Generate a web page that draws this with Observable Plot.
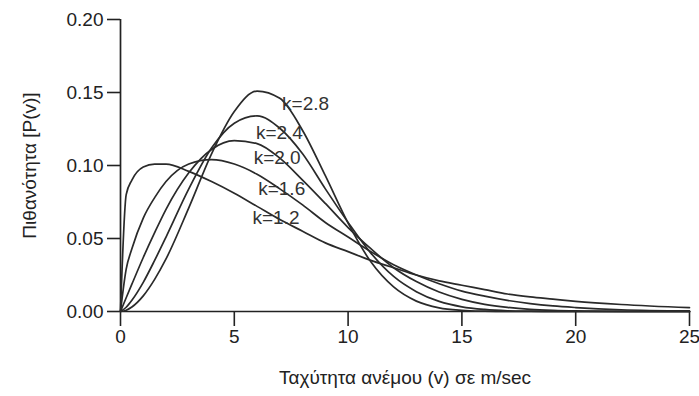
<!DOCTYPE html>
<html><head><meta charset="utf-8">
<script src="https://cdn.jsdelivr.net/npm/d3@7"></script>
<script src="https://cdn.jsdelivr.net/npm/@observablehq/plot@0.6"></script>
<style>body{margin:0;background:#fff} #chart{width:699px;height:396px}</style>
</head><body><div id="chart"></div>
<script>
// Wind speed samples (m/sec)
const speeds = [0, 0.25, 0.5, 1, 1.5, 2, 3, 4, 5, 6, 7, 8, 9, 10, 11, 12, 13, 14, 15, 16, 17, 18, 19, 20, 22, 25];
// Probability P(v) for each shape factor k
const p12 = [0, 0.080, 0.090, 0.099, 0.101, 0.101, 0.096, 0.089, 0.081, 0.072, 0.063, 0.055, 0.047, 0.041, 0.035, 0.030, 0.025, 0.021, 0.018, 0.015, 0.012, 0.010, 0.0085, 0.007, 0.0048, 0.0026];
const p16 = [0, 0.029, 0.043, 0.064, 0.078, 0.089, 0.101, 0.104, 0.101, 0.094, 0.084, 0.073, 0.061, 0.051, 0.041, 0.032, 0.025, 0.019, 0.014, 0.0105, 0.0076, 0.0054, 0.0038, 0.0027, 0.0012, 0.0004];
const p20 = [0, 0.0094, 0.0187, 0.037, 0.054, 0.070, 0.095, 0.111, 0.117, 0.115, 0.105, 0.090, 0.074, 0.0575, 0.043, 0.030, 0.0205, 0.0133, 0.0083, 0.0049, 0.0028, 0.0015, 0.0008, 0.0004, 0.0001, 0];
const p24 = [0, 0.0029, 0.0077, 0.020, 0.035, 0.051, 0.084, 0.112, 0.129, 0.134, 0.1255, 0.108, 0.084, 0.061, 0.040, 0.024, 0.0136, 0.0069, 0.0032, 0.0014, 0.0005, 0.0002, 0.0001, 0, 0, 0];
const p28 = [0, 0.0009, 0.0031, 0.0107, 0.022, 0.036, 0.071, 0.108, 0.137, 0.151, 0.146, 0.124, 0.093, 0.0605, 0.034, 0.0168, 0.0071, 0.0025, 0.0008, 0.0002, 0, 0, 0, 0, 0, 0];
const kLabels = ["k=1.2", "k=1.6", "k=2.0", "k=2.4", "k=2.8"];
// label anchor positions (data units)
const labelV = [5.8, 6.05, 5.85, 5.95, 7.1];
const labelP = [0.064, 0.084, 0.105, 0.122, 0.142];
const xTicks = [0, 5, 10, 15, 20, 25];
const yTicks = [0, 0.05, 0.10, 0.15, 0.20];
const xTitle = "Ταχύτητα ανέμου (v) σε m/sec";
const yTitle = "Πιθανότητα [P(v)]";

const series = [p12, p16, p20, p24, p28];
const rows = series.flatMap((vals, i) => speeds.map((v, j) => ({v, p: vals[j], k: kLabels[i]})));
const labels = kLabels.map((t, i) => ({t, v: labelV[i], p: labelP[i]}));

const ink = "#222";
const chart = Plot.plot({
  width: 699, height: 396,
  marginLeft: 120, marginRight: 10, marginTop: 19, marginBottom: 85,
  style: {fontFamily: "'Liberation Sans', Arial, sans-serif", fontSize: "19px", color: ink, background: "#fff"},
  x: {domain: [0, 25]},
  y: {domain: [0, 0.2]},
  marks: [
    Plot.axisX({ticks: xTicks, tickSize: 15, tickPadding: 3, tickFormat: d3.format("d"), strokeWidth: 1.6,
      label: xTitle, labelAnchor: "center", labelArrow: "none", labelOffset: 72, fontSize: 19}),
    Plot.axisY({ticks: yTicks, tickSize: 13, tickPadding: 4, tickFormat: d3.format(".2f"), strokeWidth: 1.6,
      label: yTitle, labelAnchor: "center", labelArrow: "none", labelOffset: 98, fontSize: 19}),
    Plot.ruleY([0], {stroke: ink, strokeWidth: 1.7}),
    Plot.ruleX([0], {stroke: ink, strokeWidth: 1.7}),
    Plot.line(rows, {x: "v", y: "p", z: "k", curve: "monotone-x", stroke: "#2a2a2a", strokeWidth: 1.7}),
    Plot.text(labels, {x: "v", y: "p", text: "t", textAnchor: "start", fontSize: 19, fill: "#333"})
  ]
});
document.getElementById("chart").append(chart);
</script>
</body></html>
